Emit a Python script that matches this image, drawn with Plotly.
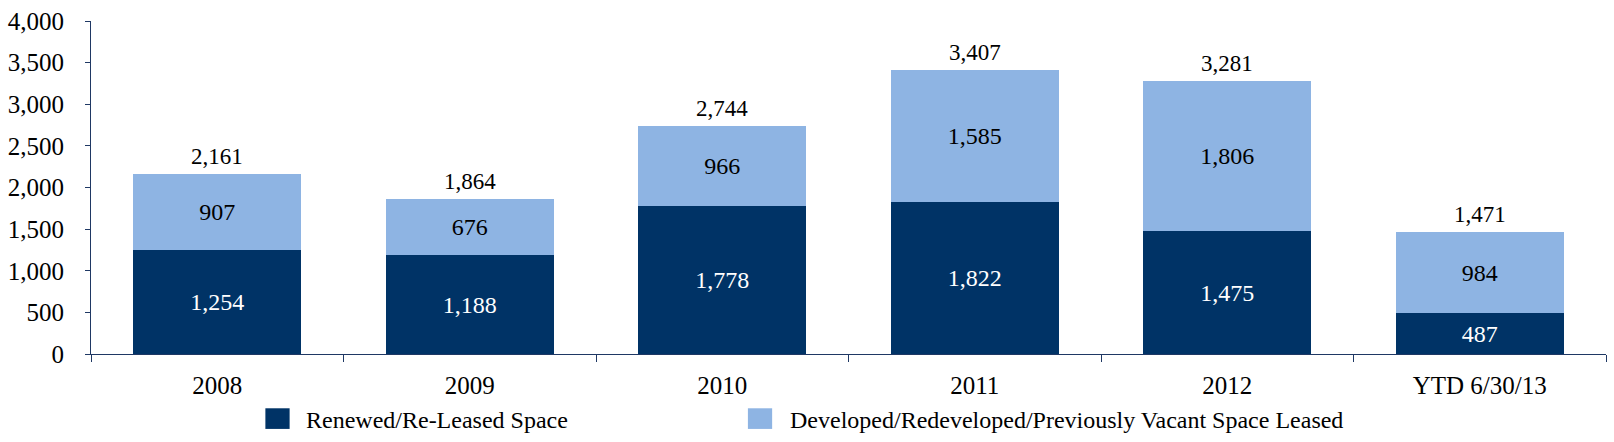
import plotly.graph_objects as go

categories = ["2008", "2009", "2010", "2011", "2012", "YTD 6/30/13"]
renewed = [1254, 1188, 1778, 1822, 1475, 487]
developed = [907, 676, 966, 1585, 1806, 984]
totals = [2161, 1864, 2744, 3407, 3281, 1471]
series_names = ["Renewed/Re-Leased Space", "Developed/Redeveloped/Previously Vacant Space Leased"]

DARK = "#003366"
LIGHT = "#8EB4E3"
AXIS = "#1F3864"
FONT = "Liberation Serif, Times New Roman, serif"

fig = go.Figure()
fig.add_trace(go.Bar(
    x=categories, y=renewed, name=series_names[0], marker=dict(color=DARK, line=dict(width=0)),
    text=[f"{v:,}" for v in renewed], textposition="inside", insidetextanchor="middle",
    textfont=dict(family=FONT, size=24, color="white"), constraintext="none", textangle=0,
))
fig.add_trace(go.Bar(
    x=categories, y=developed, name=series_names[1], marker=dict(color=LIGHT, line=dict(width=0)),
    text=[f"{v:,}" for v in developed], textposition="inside", insidetextanchor="middle",
    textfont=dict(family=FONT, size=24, color="black"), constraintext="none", textangle=0,
))
# total labels: category axis positions given by index
for i, t in enumerate(totals):
    fig.add_annotation(x=i, y=t, text=f"{t:,}", showarrow=False, yanchor="bottom", yshift=3,
                       font=dict(family=FONT, size=23, color="black"))

# custom legend
legend_items = [(series_names[0], DARK, 0.1151, 0.1408), (series_names[1], LIGHT, 0.4336, 0.4600)]
for name, color, x0, xt in legend_items:
    fig.add_shape(type="rect", xref="paper", yref="paper", x0=x0, x1=x0 + 0.0160,
                  y0=-0.163, y1=-0.225, fillcolor=color, line=dict(width=0))
    fig.add_annotation(xref="paper", yref="paper", x=xt, y=-0.197, text=name,
                       showarrow=False, xanchor="left", yanchor="middle",
                       font=dict(family=FONT, size=24, color="black"))

fig.update_layout(
    barmode="stack", bargap=0.333, showlegend=False,
    width=1614, height=442, margin=dict(l=86, r=8, t=15, b=88),
    plot_bgcolor="white", paper_bgcolor="white",
    font=dict(family=FONT, size=24, color="black"),
    uniformtext=dict(mode=False),
)
fig.update_xaxes(type="category", showline=True, linecolor=AXIS, linewidth=1, ticks="outside",
                 tickson="boundaries", ticklen=7, tickcolor=AXIS,
                 tickfont=dict(family=FONT, size=25, color="black"),
                 showgrid=False, ticklabelstandoff=9, tickangle=0)
fig.update_yaxes(range=[0, 4000], dtick=500, tickformat=",", showline=True, linecolor=AXIS,
                 linewidth=1, ticks="outside", ticklen=5, tickcolor=AXIS, showgrid=False,
                 zeroline=False, tickfont=dict(family=FONT, size=25, color="black"),
                 ticklabelstandoff=16)

fig.write_html("out.html", config={"displayModeBar": False},
               post_script="document.body.style.margin='0';document.body.style.overflow='hidden';")
